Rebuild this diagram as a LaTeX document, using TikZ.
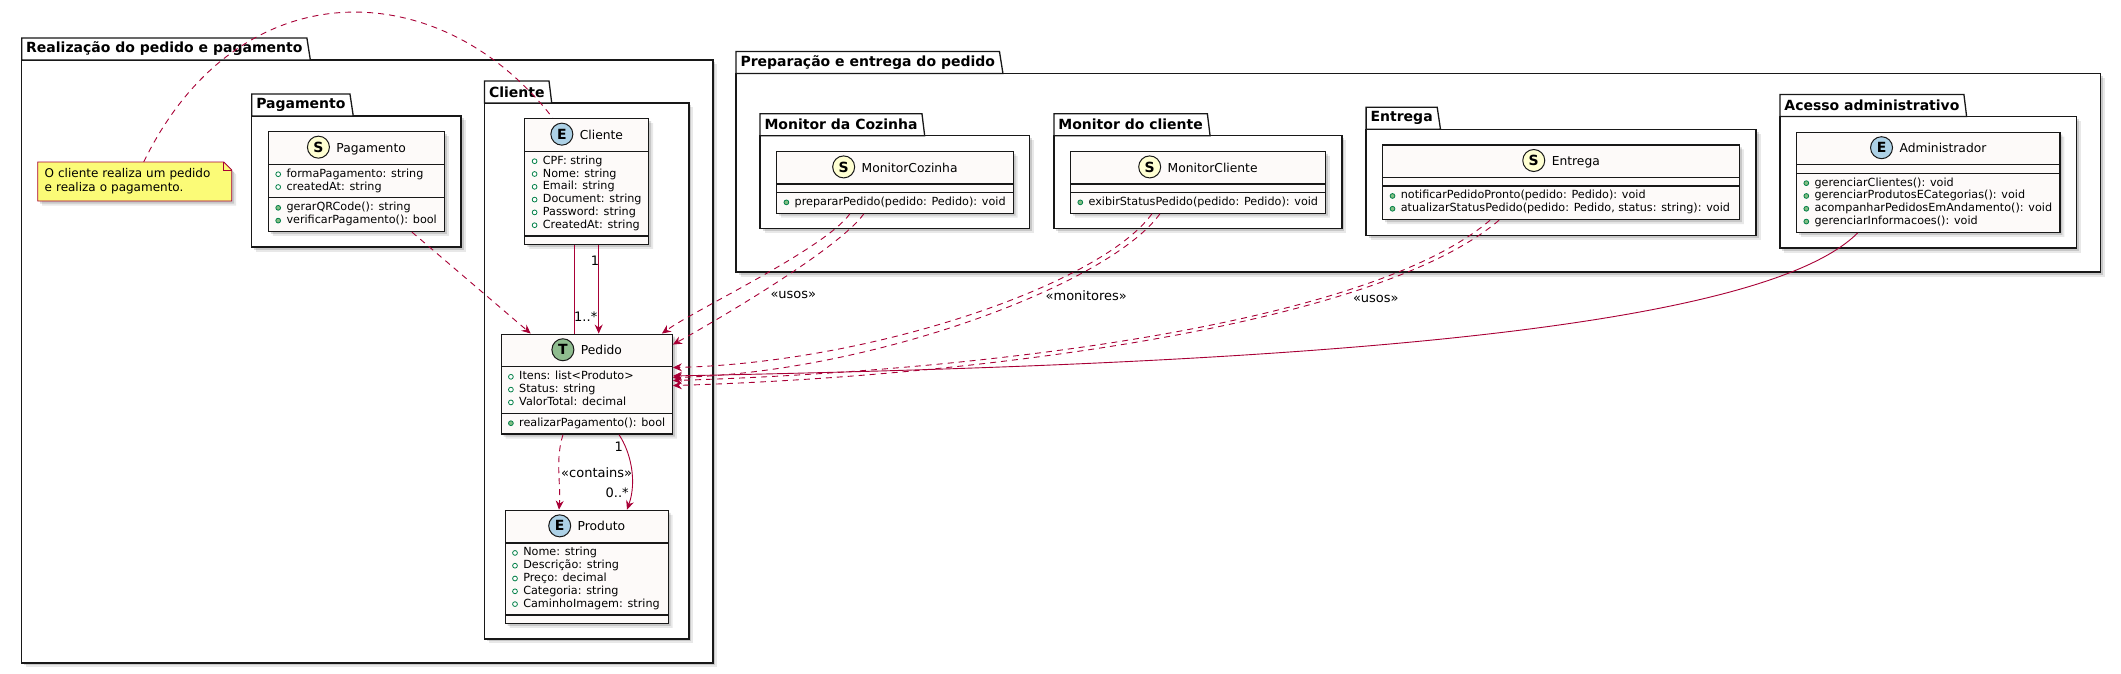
\documentclass[tikz,border=0pt]{standalone}
\usepackage{fontspec}
\setmainfont{DejaVu Sans}
\usetikzlibrary{positioning, backgrounds, fit, shapes.multipart, shapes.geometric, shadows, arrows.meta}

\pgfdeclarelayer{back}
\pgfsetlayers{back,background,main}

\definecolor{linered}{HTML}{A80036}
\definecolor{clsfill}{HTML}{FDFAF9}
\definecolor{clsline}{HTML}{181818}
\definecolor{notefill}{HTML}{FBFB77}
\definecolor{fieldgreen}{HTML}{038048}
\definecolor{methodgreen}{HTML}{84BE84}
\definecolor{spotE}{HTML}{ADD1E6}
\definecolor{spotT}{HTML}{8FBC8F}
\definecolor{spotS}{HTML}{FFFFD2}

\newcommand{\clsname}[1]{{\fontsize{12.3}{14}\selectfont #1}}
\newcommand{\fld}{\strut\tikz[baseline=-3pt]\draw[fieldgreen, fill=white, line width=0.8pt] (0,0) circle (2.4pt);\hspace{5.5pt}}
\newcommand{\mth}{\strut\tikz[baseline=-3pt]\draw[fieldgreen, fill=methodgreen, line width=0.8pt] (0,0) circle (2.4pt);\hspace{5.5pt}}
\newcommand{\spot}[2]{\rule[-8pt]{0pt}{24.7pt}\tikz[baseline=(spotc.base)]\node[circle, draw=clsline, fill=#1, line width=1pt, minimum size=22pt, inner sep=0pt, outer sep=0pt, font=\bfseries\fontsize{14}{14}\selectfont] (spotc) {#2};\hspace{6.5pt}}
\newcommand{\nomembers}{\rule{0pt}{0.4pt}}

\begin{document}
\begin{tikzpicture}[
    x=1pt, y=-1pt,
    castshadow/.style={drop shadow={shadow xshift=2.5pt, shadow yshift=-2.5pt, opacity=0.14, fill=black},
        drop shadow={shadow xshift=4.5pt, shadow yshift=-4.5pt, opacity=0.09, fill=black}},
    cls/.style={rectangle split, rectangle split parts=3, rectangle split part align={center,left,left},
        draw=clsline, line width=1.2pt, fill=clsfill, align=left, inner xsep=7pt, inner ysep=3.4pt,
        font=\fontsize{11.2}{12.8}\selectfont, anchor=north west, castshadow},
    notebox/.style={text width=180pt, inner xsep=7pt, inner ysep=0pt, minimum height=39pt, align=left,
        outer sep=0pt, anchor=north west, font=\fontsize{12}{14}\selectfont},
    pkg/.style={draw=clsline, line width=1.3pt, fill=white, inner xsep=16pt, inner ysep=15pt, outer sep=0pt, castshadow},
    pkgtab/.style={trapezium, trapezium left angle=90, trapezium right angle=76, trapezium stretches=true,
        draw=clsline, line width=1.3pt, fill=white, outer sep=0pt, anchor=bottom left corner,
        minimum height=22pt, inner xsep=4.5pt, inner ysep=0pt, font=\bfseries\fontsize{14}{16}\selectfont},
    dep/.style={draw=linered, line width=0.9pt, dash pattern=on 6pt off 5pt, -{Stealth[length=9pt, width=8pt, inset=3pt]}},
    assoc/.style={draw=linered, line width=0.9pt, -{Stealth[length=9pt, width=8pt, inset=3pt]}},
    plainlink/.style={draw=linered, line width=0.9pt},
    notelink/.style={draw=linered, line width=0.9pt, dash pattern=on 6pt off 5pt},
    lbl/.style={font=\fontsize{13}{15}\selectfont, inner sep=1pt},
]
\useasboundingbox (0,0) rectangle (2121,673);

% Realizacao do pedido e pagamento
\node [notebox] (note) at (37.7,162) {O cliente realiza um pedido\\e realiza o pagamento.};
\node [cls, minimum width=176pt, right=36.1pt of note] (pagamento) {\spot{spotS}{S}\clsname{Pagamento}\nodepart{two}\fld formaPagamento: string\\\fld createdAt: string\nodepart{three}\mth gerarQRCode(): string\\\mth verificarPagamento(): bool};
\node [cls, minimum width=123pt, right=79.2pt of pagamento] (cliente) {\spot{spotE}{E}\clsname{Cliente}\nodepart{two}\fld CPF: string\\\fld Nome: string\\\fld Email: string\\\fld Document: string\\\fld Password: string\\\fld CreatedAt: string\nodepart{three}\nomembers};
\node [cls, minimum width=171pt, below=88.5pt of cliente] (pedido) {\spot{spotT}{T}\clsname{Pedido}\nodepart{two}\fld Itens: list<Produto>\\\fld Status: string\\\fld ValorTotal: decimal\nodepart{three}\mth realizarPagamento(): bool};
\node [cls, minimum width=163pt, below=75pt of pedido] (produto) {\spot{spotE}{E}\clsname{Produto}\nodepart{two}\fld Nome: string\\\fld Descrição: string\\\fld Preço: decimal\\\fld Categoria: string\\\fld CaminhoImagem: string\nodepart{three}\nomembers};

% Preparacao e entrega do pedido
\node [cls, minimum width=236.5pt] (cozinha) at (776,150.7) {\spot{spotS}{S}\clsname{MonitorCozinha}\nodepart{two}\nomembers\nodepart{three}\mth prepararPedido(pedido: Pedido): void};
\node [cls, minimum width=254.8pt, right=56.2pt of cozinha] (mcliente) {\spot{spotS}{S}\clsname{MonitorCliente}\nodepart{two}\nomembers\nodepart{three}\mth exibirStatusPedido(pedido: Pedido): void};
\node [cls, minimum width=356.7pt, right=56.2pt of mcliente] (entrega) {\spot{spotS}{S}\clsname{Entrega}\nodepart{two}\nomembers\nodepart{three}\mth notificarPedidoPronto(pedido: Pedido): void\\\mth atualizarStatusPedido(pedido: Pedido, status: string): void};
\node [cls, minimum width=263.4pt, right=55.9pt of entrega] (admin) {\spot{spotE}{E}\clsname{Administrador}\nodepart{two}\nomembers\nodepart{three}\mth gerenciarClientes(): void\\\mth gerenciarProdutosECategorias(): void\\\mth acompanharPedidosEmAndamento(): void\\\mth gerenciarInformacoes(): void};

% Packages
\begin{scope}[on background layer]
    \path [fill=notefill, draw=linered, line width=0.8pt, castshadow] (note.north west) -- ([xshift=-8pt]note.north east) -- ([yshift=-8pt]note.north east) -- (note.south east) -- (note.south west) -- cycle;
    \draw [linered, line width=0.8pt] ([xshift=-8pt]note.north east) |- ([yshift=-8pt]note.north east);
    \node [pkg, fit=(pagamento)] (pagpkg) {};
    \node [pkgtab] (pagtab) at (pagpkg.north west) {Pagamento};
    \node [pkg, fit=(cliente) (pedido) (produto)] (clipkg) {};
    \node [pkgtab] (clitab) at (clipkg.north west) {Cliente};
    \node [pkg, fit=(cozinha)] (cozpkg) {};
    \node [pkgtab] (coztab) at (cozpkg.north west) {Monitor da Cozinha};
    \node [pkg, fit=(mcliente)] (mclipkg) {};
    \node [pkgtab] (mclitab) at (mclipkg.north west) {Monitor do cliente};
    \node [pkg, fit=(entrega)] (entpkg) {};
    \node [pkgtab] (enttab) at (entpkg.north west) {Entrega};
    \node [pkg, fit=(admin)] (admpkg) {};
    \node [pkgtab] (admtab) at (admpkg.north west) {Acesso administrativo};
\end{scope}
\begin{pgfonlayer}{back}
    \node [pkg, inner sep=0pt, fit={([xshift=-16pt]note.west) ([xshift=24pt, yshift=-24pt]clipkg.south east) ([yshift=21pt]clitab.north)}] (realpkg) {};
    \node [pkgtab] (realtab) at (realpkg.north west) {Realização do pedido e pagamento};
    \node [pkg, inner sep=0pt, fit={([xshift=-24pt]cozpkg.west) ([xshift=24pt, yshift=-24pt]admpkg.south east) ([yshift=21pt]admtab.north)}] (preppkg) {};
    \node [pkgtab] (preptab) at (preppkg.north west) {Preparação e entrega do pedido};
\end{pgfonlayer}

% Lines
\draw [notelink] ([xshift=9pt]note.north) .. controls +(95,-195) and +(-112,-145) .. ([xshift=-34pt]cliente.north);
\draw [dep] ([xshift=55.5pt]pagamento.south) -- ([xshift=-56pt]pedido.north);
\draw [plainlink] ([xshift=-12.5pt]cliente.south) -- ([xshift=-12.5pt]pedido.north);
\draw [assoc] ([xshift=12pt]cliente.south) -- node [lbl, pos=0.18, anchor=east, xshift=2pt] {1} node [lbl, pos=0.81, anchor=east] {1..*} ([xshift=12pt]pedido.north);
\draw [dep] ([xshift=-23.7pt]pedido.south) .. controls +(-8,25) and +(2,-25) .. node [lbl, anchor=west, xshift=1pt] {«contains»} ([xshift=-27.7pt]produto.north);
\draw [assoc] ([xshift=32.3pt]pedido.south) .. controls +(12,18) and +(10,-28) .. node [lbl, pos=0.2, anchor=east, xshift=-1pt] {1} node [lbl, pos=0.8, anchor=east, xshift=-1pt] {0..*} ([xshift=40.3pt]produto.north);

\draw [dep] ([xshift=-45pt]cozinha.south) .. controls +(-25,35) and +(35,-25) .. ([xshift=-11pt]pedido.north east);
\draw [dep] ([xshift=-31pt]cozinha.south) .. controls +(-25,35) and +(45,-25) .. node [lbl, pos=0.58, anchor=west, xshift=12pt] {«usos»} ([yshift=-11pt]pedido.north east);
\draw [dep] ([xshift=-46pt]mcliente.south) .. controls +(-50,70) and +(200,-5) .. ([yshift=-34pt]pedido.north east);
\draw [dep] ([xshift=-38pt]mcliente.south) .. controls +(-50,70) and +(200,-5) .. node [lbl, pos=0.38, anchor=west, xshift=10pt] {«monitores»} ([yshift=-44pt]pedido.north east);
\draw [dep] ([xshift=-71pt]entrega.south) .. controls +(-119,102) and +(325,-10) .. ([yshift=-47pt]pedido.north east);
\draw [dep] ([xshift=-62pt]entrega.south) .. controls +(-119,102) and +(325,-10) .. node [lbl, pos=0.3, anchor=west, xshift=22pt] {«usos»} ([yshift=-52pt]pedido.north east);
\draw [assoc] ([xshift=-70.6pt]admin.south) .. controls +(-110,110) and +(500,-10) .. ([yshift=-42.4pt]pedido.north east);

\end{tikzpicture}
\end{document}
